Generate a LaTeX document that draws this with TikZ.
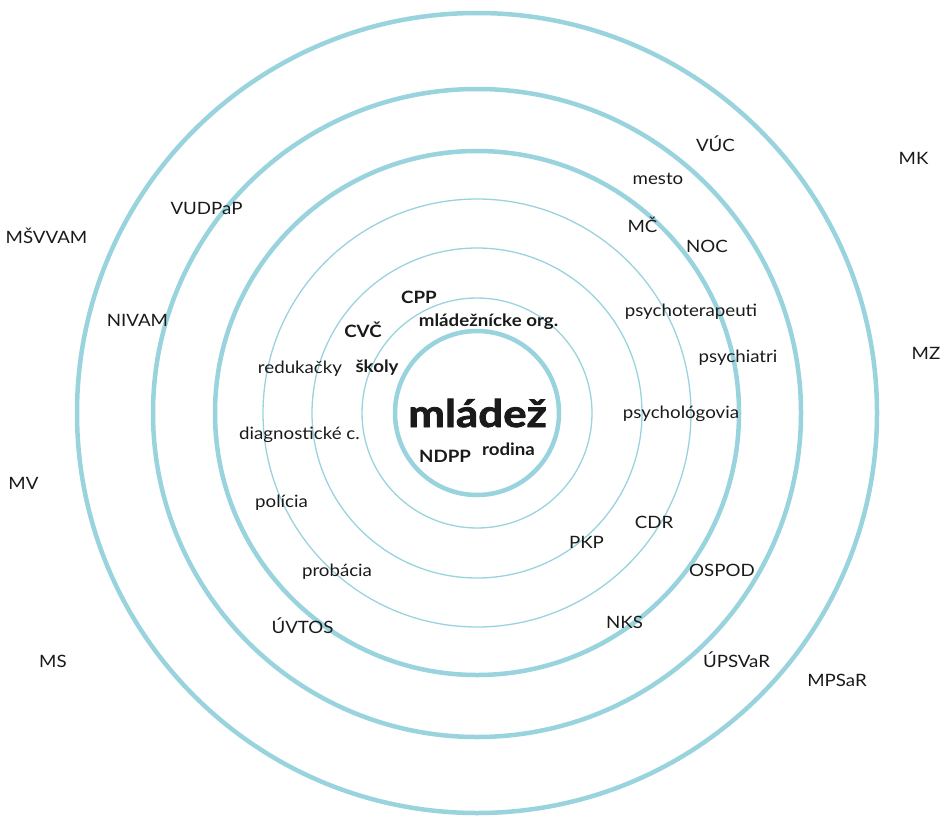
\documentclass[tikz,border=0pt]{standalone}
\usepackage{fontspec}
\setmainfont{Lato}[FakeStretch=1.1]
\definecolor{ring}{HTML}{98D3DE}
\definecolor{ink}{HTML}{1A1A1A}
\begin{document}
\begin{tikzpicture}[x=1pt,y=-1pt,
  thickring/.style={draw=ring,line width=4.5pt},
  thinring/.style={draw=ring,line width=1.3pt},
  lbl/.style={anchor=base,inner sep=0pt,text=ink,font=\fontsize{17}{17}\selectfont},
  blbl/.style={lbl,font=\fontsize{17}{17}\selectfont\bfseries},
  center/.style={anchor=base,inner sep=0pt,text=ink,xscale=1.05,font=\fontsize{38}{38}\selectfont\bfseries\addfontfeature{FakeBold=2}}]
\useasboundingbox (0,0) rectangle (944,816);
\coordinate (c) at (477,413);
\draw[thickring] (c) circle[radius=400pt];
\draw[thickring] (c) circle[radius=324pt];
\draw[thickring] (c) circle[radius=262pt];
\draw[thinring] (c) circle[radius=214pt];
\draw[thinring] (c) circle[radius=165pt];
\draw[thinring] (c) circle[radius=115pt];
\draw[thickring] (c) circle[radius=82pt];
% centre
\node[center] (mladez) at (477.5,427) {mládež};
\node[blbl] (ndpp) at (445,462) {NDPP};
\node[blbl] (rodina) at (508.5,455) {rodina};
\node[blbl] (cpp) at (419,303) {CPP};
\node[blbl] (morg) at (488.5,326) {mládežnícke org.};
\node[blbl] (cvc) at (363,337) {CVČ};
\node[blbl] (skoly) at (377,372) {školy};
% regular
\node[lbl] (reduk) at (300,373) {redukačky};
\node[lbl] (diag) at (299.5,439) {diagnostické c.};
\node[lbl] (policia) at (281.5,507) {polícia};
\node[lbl] (probacia) at (337,576) {probácia};
\node[lbl] (uvtos) at (302.5,633) {ÚVTOS};
\node[lbl] (pkp) at (586.5,548) {PKP};
\node[lbl] (cdr) at (654,528) {CDR};
\node[lbl] (ospod) at (722,576) {OSPOD};
\node[lbl] (nks) at (624.5,628) {NKS};
\node[lbl] (upsvar) at (736.5,667) {ÚPSVaR};
\node[lbl] (mpsar) at (837,686) {MPSaR};
\node[lbl] (ms) at (53,667) {MS};
\node[lbl] (mv) at (23.5,489) {MV};
\node[lbl] (msvvam) at (46.5,243) {MŠVVAM};
\node[lbl] (nivam) at (137.5,326) {NIVAM};
\node[lbl] (vudpap) at (206.5,214) {VUDPaP};
\node[lbl] (vuc) at (715.5,151) {VÚC};
\node[lbl] (mesto) at (658,184) {mesto};
\node[lbl] (mc) at (642.5,232) {MČ};
\node[lbl] (noc) at (707,252) {NOC};
\node[lbl] (mk) at (913.5,164) {MK};
\node[lbl] (mz) at (926,359) {MZ};
\node[lbl] (psychot) at (691,316) {psychoterapeuti};
\node[lbl] (psychia) at (738,362) {psychiatri};
\node[lbl] (psychol) at (681,418) {psychológovia};
\end{tikzpicture}
\end{document}
